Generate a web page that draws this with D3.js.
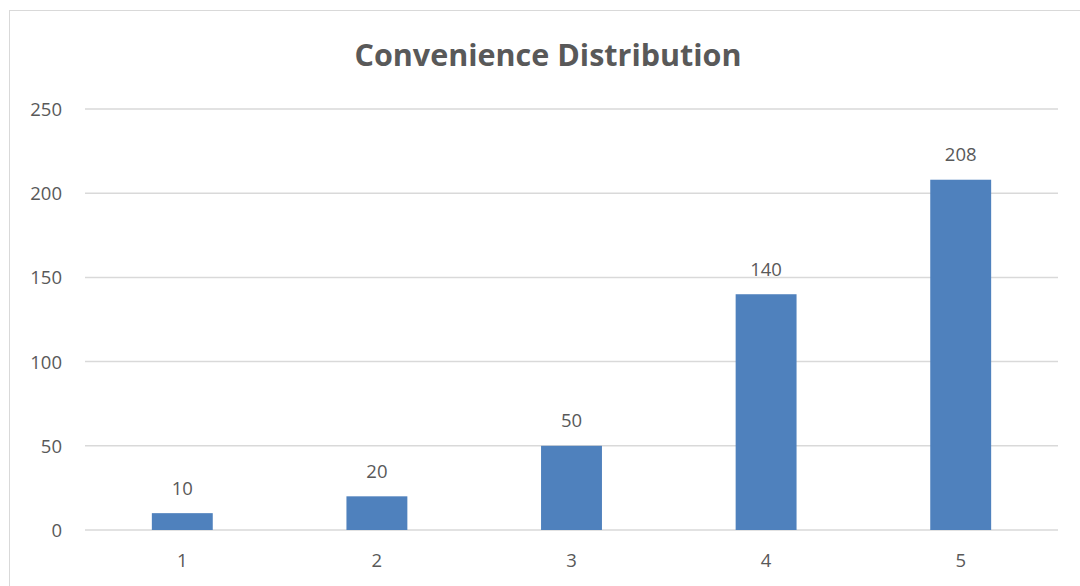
<!DOCTYPE html>
<html>
<head>
<meta charset="utf-8">
<script src="https://cdn.jsdelivr.net/npm/d3@7"></script>
<style>
  html, body { margin: 0; padding: 0; background: #fff; }
  svg { display: block; }
</style>
</head>
<body>
<script>
// Rating categories and counts
const categories = ["1", "2", "3", "4", "5"];
const counts = [10, 20, 50, 140, 208];
const yTicks = [0, 50, 100, 150, 200, 250];
const titleText = "Convenience Distribution";

const W = 1080, H = 586;
const plot = { left: 85, right: 1058, top: 109, bottom: 530 };
const font = "'Open Sans', 'Noto Sans', sans-serif";
const textColor = "#595959";
const labelSize = 18.5;

const svg = d3.select("body").append("svg")
  .attr("width", W).attr("height", H);

// chart area frame
svg.append("rect")
  .attr("x", 9.5).attr("y", 10.5)
  .attr("width", W + 10).attr("height", H + 10)
  .attr("fill", "#fff")
  .attr("stroke", "#d9d9d9").attr("stroke-width", 1);

const x = d3.scaleBand().domain(categories)
  .range([plot.left, plot.right]).padding(0);
const y = d3.scaleLinear().domain([0, 250])
  .range([plot.bottom, plot.top]);

// horizontal gridlines
svg.append("g").selectAll("line").data(yTicks).join("line")
  .attr("x1", plot.left).attr("x2", plot.right)
  .attr("y1", d => y(d)).attr("y2", d => y(d))
  .attr("stroke", "#d9d9d9").attr("stroke-width", 1.5);

// y axis labels
const yAxis = d3.axisLeft(y).tickValues(yTicks).tickSize(0).tickPadding(0);
const gy = svg.append("g").attr("transform", "translate(62,0)").call(yAxis);
gy.select(".domain").remove();
gy.selectAll("text")
  .attr("font-family", font).attr("font-size", labelSize)
  .attr("fill", textColor).attr("dy", "0.35em");

// x axis labels
const xAxis = d3.axisBottom(x).tickSize(0).tickPadding(0);
const gx = svg.append("g").attr("transform", `translate(0,${plot.bottom + 31})`).call(xAxis);
gx.select(".domain").remove();
gx.selectAll("text")
  .attr("font-family", font).attr("font-size", labelSize)
  .attr("fill", textColor).attr("dy", "0.35em");

// bars
const barW = x.bandwidth() * 0.313;
const rows = categories.map((c, i) => ({ c, v: counts[i] }));
svg.append("g").selectAll("rect").data(rows).join("rect")
  .attr("x", d => x(d.c) + x.bandwidth() / 2 - barW / 2)
  .attr("width", barW)
  .attr("y", d => y(d.v))
  .attr("height", d => y(0) - y(d.v))
  .attr("fill", "#4f81bd");

// value labels
svg.append("g").selectAll("text").data(rows).join("text")
  .attr("x", d => x(d.c) + x.bandwidth() / 2)
  .attr("y", d => y(d.v) - 25)
  .attr("dy", "0.35em")
  .attr("text-anchor", "middle")
  .attr("font-family", font).attr("font-size", labelSize)
  .attr("fill", textColor)
  .text(d => d.v);

// title
svg.append("text")
  .attr("x", 548).attr("y", 55).attr("dy", "0.35em")
  .attr("text-anchor", "middle")
  .attr("font-family", font).attr("font-size", 30.5).attr("font-weight", "bold")
  .attr("fill", textColor)
  .text(titleText);
</script>
</body>
</html>
